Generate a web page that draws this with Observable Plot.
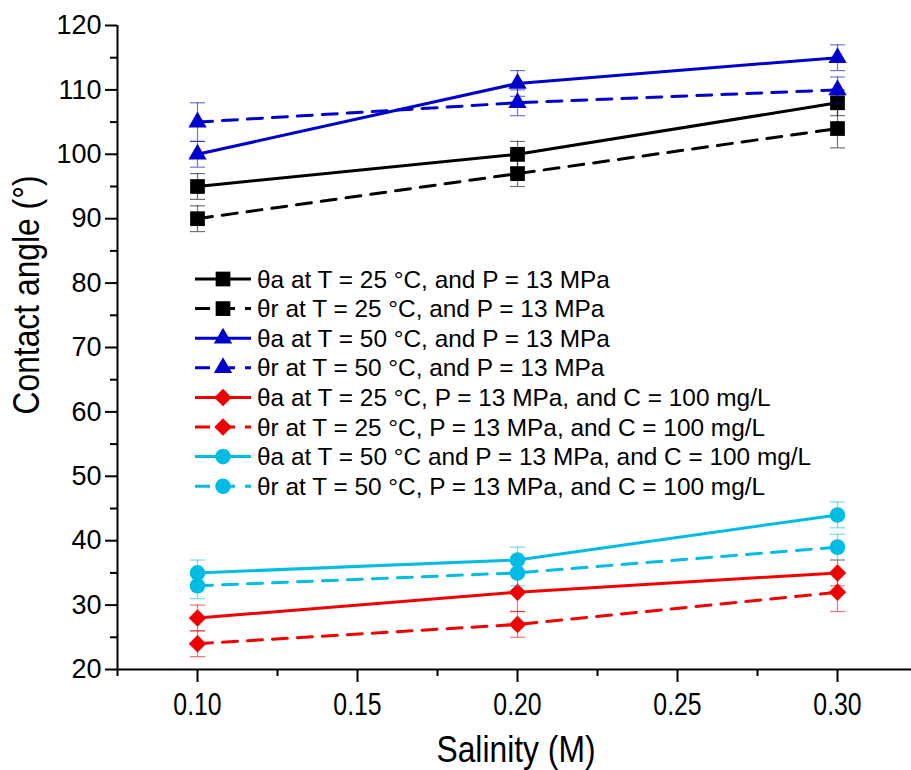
<!DOCTYPE html>
<html><head><meta charset="utf-8">
<script src="https://cdn.jsdelivr.net/npm/d3@7"></script>
<script src="https://cdn.jsdelivr.net/npm/@observablehq/plot@0.6"></script>
<style>
body{margin:0;background:#fff;}
#chart{width:911px;height:770px;}
</style></head><body><div id="chart"></div>
<script>
// ---- data ----
const salinity = [0.10, 0.20, 0.30];
const thetaA25 = [95, 100, 108];   const errA25 = [2, 2, 2];
const thetaR25 = [90, 97, 104];    const errR25 = [2, 2, 3];
const thetaA50 = [100, 111, 115];  const errA50 = [2, 2, 2];
const thetaR50 = [105, 108, 110];  const errR50 = [3, 2, 2];
const thetaA25C = [28, 32, 35];    const errA25C = [2, 3, 2];
const thetaR25C = [24, 27, 32];    const errR25C = [2, 2, 3];
const thetaA50C = [35, 37, 44];    const errA50C = [2, 2, 2];
const thetaR50C = [33, 35, 39];    const errR50C = [2, 2, 2];

const seriesLabels = [
  "θa at T = 25 °C, and P = 13 MPa",
  "θr at T = 25 °C, and P = 13 MPa",
  "θa at T = 50 °C, and P = 13 MPa",
  "θr at T = 50 °C, and P = 13 MPa",
  "θa at T = 25 °C, P = 13 MPa, and C = 100 mg/L",
  "θr at T = 25 °C, P = 13 MPa, and C = 100 mg/L",
  "θa at T = 50 °C and P = 13 MPa, and C = 100 mg/L",
  "θr at T = 50 °C, P = 13 MPa, and C = 100 mg/L"
];
const seriesColors = ["#000000", "#000000", "#0000CC", "#0000CC", "#F00000", "#F00000", "#00BCE4", "#00BCE4"];
const seriesSymbols = ["square", "square", "triangle", "triangle", "diamond2", "diamond2", "circle", "circle"];
const seriesDashed = [false, true, false, true, false, true, false, true];
const seriesValues = [thetaA25, thetaR25, thetaA50, thetaR50, thetaA25C, thetaR25C, thetaA50C, thetaR50C];
const seriesErrors = [errA25, errR25, errA50, errR50, errA25C, errR25C, errA50C, errR50C];

const xDomain = [0.075, 0.323125];
const yDomain = [20, 120];
const xMajorTicks = [0.10, 0.15, 0.20, 0.25, 0.30];
const xMinorTicks = [0.075, 0.125, 0.175, 0.225, 0.275];
const yMajorTicks = [20, 30, 40, 50, 60, 70, 80, 90, 100, 110, 120];
const yMinorTicks = [25, 35, 45, 55, 65, 75, 85, 95, 105, 115];
const xTitle = "Salinity (M)";
const yTitle = "Contact angle (°)";

// ---- styles ----
const symbolR = {square: 8.3, triangle: 6.8, diamond2: 7.9, circle: 7.8};
const DASH = "15,10";
const regFont = "'Liberation Sans', Arial, sans-serif";

const rows = [];
seriesValues.forEach((vals, s) => vals.forEach((v, i) => rows.push({
  s, x: salinity[i], y: v, lo: v - seriesErrors[s][i], hi: v + seriesErrors[s][i]
})));

const capSymbol = {draw(ctx) { ctx.moveTo(-7.5, 0); ctx.lineTo(7.5, 0); }};

const marks = [];
seriesValues.forEach((_, s) => {
  const d = rows.filter(r => r.s === s);
  const c = seriesColors[s];
  marks.push(Plot.ruleX(d, {x: "x", y1: "lo", y2: "hi", stroke: c, strokeOpacity: 0.55, strokeWidth: 1.2}));
  marks.push(Plot.dot(d, {x: "x", y: "lo", symbol: capSymbol, stroke: c, strokeOpacity: 0.55, strokeWidth: 1.2, r: 1}));
  marks.push(Plot.dot(d, {x: "x", y: "hi", symbol: capSymbol, stroke: c, strokeOpacity: 0.55, strokeWidth: 1.2, r: 1}));
  marks.push(Plot.line(d, {x: "x", y: "y", stroke: c, strokeWidth: 3, strokeDasharray: seriesDashed[s] ? DASH : null}));
  marks.push(Plot.dot(d, {x: "x", y: "y", symbol: seriesSymbols[s], r: symbolR[seriesSymbols[s]], fill: c, stroke: "none"}));
});

const chart = Plot.plot({
  width: 911, height: 770,
  marginLeft: 117, marginRight: 0, marginTop: 25, marginBottom: 101,
  style: {fontFamily: regFont, color: "#000", background: "#fff", overflow: "visible"},
  x: {domain: xDomain, axis: null},
  y: {domain: yDomain, axis: null},
  marks: [
    Plot.axisY(yMinorTicks, {tickSize: 7, strokeWidth: 2, tickFormat: () => "", label: null}),
    Plot.axisY(yMajorTicks, {tickSize: 12, tickPadding: 4, strokeWidth: 2, fontSize: 27, label: null}),
    Plot.axisX(xMinorTicks, {tickSize: 7, strokeWidth: 2, tickFormat: () => "", label: null}),
    Plot.axisX(xMajorTicks, {tickSize: 13, tickPadding: 10, strokeWidth: 2, fontSize: 31, label: null, tickFormat: d3.format(".2f")}),
    Plot.ruleX([xDomain[0]], {y1: yDomain[0], y2: yDomain[1], strokeWidth: 2}),
    Plot.ruleY([yDomain[0]], {x1: xDomain[0], x2: xDomain[1], strokeWidth: 2}),
    ...marks
  ]
});
document.getElementById("chart").appendChild(chart);

const svg = d3.select(chart);
// narrow-looking x tick labels (condensed horizontally)
svg.selectAll("text").filter(function() { return /^0\.\d\d$/.test(this.textContent); }).each(function() {
  const t = d3.select(this);
  const tr = t.attr("transform") || "";
  t.attr("transform", tr + " scale(0.8,1)");
});

// ---- titles & legend ----
svg.append("text").text(xTitle)
  .attr("transform", "translate(516,749) scale(0.86,1)").attr("text-anchor", "middle").attr("dominant-baseline", "central")
  .attr("font-family", regFont).attr("font-size", 37).attr("fill", "#000");
svg.append("text").text(yTitle)
  .attr("transform", "translate(26,295) rotate(-90) scale(0.86,1)").attr("text-anchor", "middle").attr("dominant-baseline", "central")
  .attr("font-family", regFont).attr("font-size", 37).attr("fill", "#000");

const lg = svg.append("g").attr("class", "legend").attr("text-anchor", "start");
const symMap = {square: d3.symbolSquare, triangle: d3.symbolTriangle, diamond2: d3.symbolDiamond2, circle: d3.symbolCircle};
seriesLabels.forEach((lab, i) => {
  const y = 279 + i * 29.6;
  const g = lg.append("g").attr("transform", `translate(0,${y})`);
  g.append("line").attr("x1", 195).attr("x2", 251).attr("y1", 0).attr("y2", 0)
    .attr("stroke", seriesColors[i]).attr("stroke-width", 3)
    .attr("stroke-dasharray", seriesDashed[i] ? DASH : null);
  const r = symbolR[seriesSymbols[i]];
  g.append("path").attr("d", d3.symbol(symMap[seriesSymbols[i]], Math.PI * r * r)())
    .attr("transform", "translate(223,0)").attr("fill", seriesColors[i]);
  g.append("text").text(lab).attr("x", 257).attr("y", 0).attr("dominant-baseline", "central")
    .attr("text-anchor", "start")
    .attr("font-family", regFont).attr("font-size", 24.4).attr("fill", "#000");
});
</script>
</body></html>
